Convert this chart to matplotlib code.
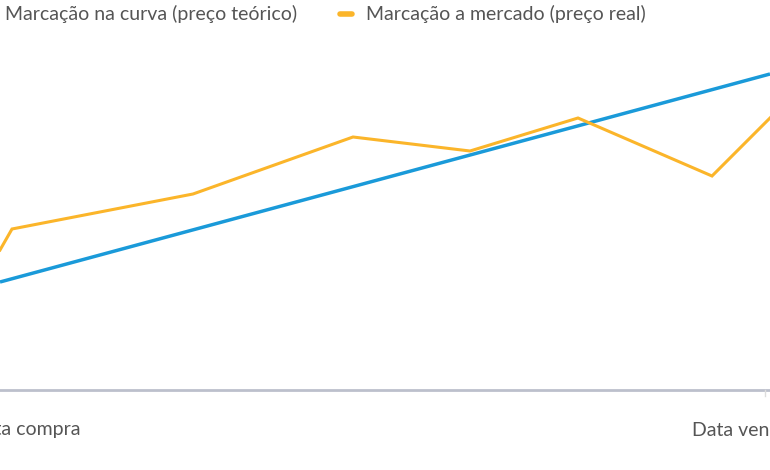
import matplotlib
matplotlib.use("Agg")
import matplotlib.pyplot as plt

# x positions (time units) and values
x_curve = [0, 770]
y_curve = [108, 316]
x_market = [0, 12, 193, 353, 470, 578, 712, 770]
y_market = [140, 161, 196, 253, 239, 272, 214, 272]
series = ["Marcação na curva (preço teórico)", "Marcação a mercado (preço real)"]
xlabels = ["Data compra", "Data vencimento"]

plt.rcParams['font.family'] = ['Lato', 'DejaVu Sans']
fig = plt.figure(figsize=(7.7, 4.7), dpi=100)
ax = fig.add_axes([0, 0, 1, 1])
ax.set_xlim(0, 770)
ax.set_ylim(-80, 390)
ax.axis('off')

blue = '#1a9ad9'
orange = '#fbb52a'
ax.plot(x_curve, y_curve, color=blue, lw=2.5, solid_capstyle='butt')
ax.plot(x_market, y_market, color=orange, lw=2.2, solid_joinstyle='miter')
ax.axhline(0, color='#bcc0cc', lw=2)
ax.plot([765, 765], [0, -6], color='#dddddd', lw=1)

tc = '#555555'
fs = 14
ax.text(25, -40, xlabels[0], ha='center', va='center', fontsize=fs, color=tc)
ax.text(765, -40, xlabels[1], ha='center', va='center', fontsize=fs, color=tc)

# legend
ax.plot([-20, -8], [376, 376], color=blue, lw=4, solid_capstyle='round')
ax.text(5, 376, series[0], ha='left', va='center', fontsize=fs, color=tc)
ax.plot([340, 352], [376, 376], color=orange, lw=4, solid_capstyle='round')
ax.text(366, 376, series[1], ha='left', va='center', fontsize=fs, color=tc)

fig.savefig('out.png', dpi=100)
